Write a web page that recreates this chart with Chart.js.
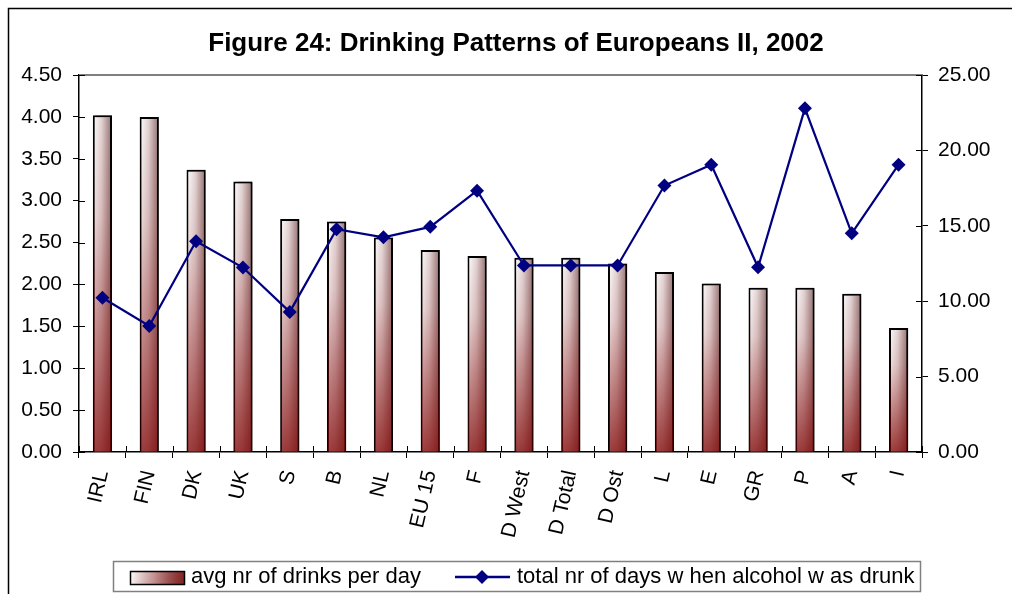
<!DOCTYPE html>
<html><head><meta charset="utf-8">
<script src="https://cdn.jsdelivr.net/npm/chart.js@4/dist/chart.umd.min.js"></script>
<style>html,body{margin:0;padding:0;background:#fff;overflow:hidden}#wrap{width:1012px;height:594px;position:relative}</style>
</head><body><div id="wrap"><canvas id="c" width="1012" height="594"></canvas></div>
<script>
const titleText = 'Figure 24: Drinking Patterns of Europeans II, 2002';
const categories = ['IRL','FIN','DK','UK','S','B','NL','EU 15','F','D West','D Total','D Ost','L','E','GR','P','A','I'];
const drinksPerDay = [4.02,4.00,3.37,3.23,2.78,2.75,2.56,2.41,2.34,2.32,2.32,2.25,2.15,2.01,1.96,1.96,1.89,1.48];
const daysDrunk = [10.23,8.36,13.97,12.23,9.29,14.77,14.24,14.93,17.33,12.37,12.37,12.37,17.67,19.05,12.25,22.79,14.50,19.05];
const seriesNames = ['avg nr of drinks per day','total nr of days w hen alcohol w as drunk'];
const leftTicks = {min:0, max:4.5, step:0.5};
const rightTicks = {min:0, max:25, step:5};

const FONT = "'Liberation Sans', Arial, sans-serif";
const BAR_PCT = 0.41;

function barGradient(ctx, x0, x1) {
  const g = ctx.createLinearGradient(x0, 0, x1, 0);
  g.addColorStop(0, '#ffffff');
  g.addColorStop(0.45, '#e3d4d4');
  g.addColorStop(1, '#947070');
  return g;
}

const decor = {
  id: 'decor',
  beforeDraw(chart) {
    const c = chart.ctx;
    c.save(); c.fillStyle = '#fff'; c.fillRect(0, 0, chart.width, chart.height); c.restore();
  },
  beforeDatasetDraw(chart, args) {
    if (args.index !== 0) return;
    const c = chart.ctx;
    c.save();
    c.shadowColor = 'rgba(0,0,0,0.45)';
    c.shadowOffsetX = 3; c.shadowOffsetY = 0; c.shadowBlur = 2;
  },
  afterDatasetDraw(chart, args) {
    if (args.index !== 0) return;
    const c = chart.ctx;
    c.restore();
    c.save();
    args.meta.data.forEach(el => {
      const p = el.getProps(['x','y','base','width'], true);
      const l = p.x - p.width / 2 + 1, r = p.x + p.width / 2 - 1;
      const g = c.createLinearGradient(0, p.y, 0, p.base);
      g.addColorStop(0, 'rgba(130,0,0,0)');
      g.addColorStop(0.3, 'rgba(130,0,0,0.12)');
      g.addColorStop(1, 'rgba(125,0,0,0.75)');
      c.fillStyle = g;
      c.fillRect(l, p.y + 1, r - l, p.base - p.y - 1);
    });
    c.restore();
  },
  afterDraw(chart) {
    const c = chart.ctx, a = chart.chartArea;
    c.save();
    c.strokeStyle = '#000'; c.lineWidth = 1.5;
    c.beginPath(); c.moveTo(8.5, chart.height); c.lineTo(8.5, 8.5); c.lineTo(chart.width, 8.5); c.stroke();
    c.strokeStyle = '#808080'; c.lineWidth = 2;
    c.beginPath(); c.moveTo(a.left, a.top); c.lineTo(a.right, a.top); c.stroke();
    c.strokeStyle = '#000'; c.lineWidth = 1;
    const ys = chart.scales.y, y1 = chart.scales.y1, xs = chart.scales.x;
    ys.ticks.forEach((t, i) => { const y = Math.round(ys.getPixelForTick(i)) + 0.5; c.beginPath(); c.moveTo(a.left, y); c.lineTo(a.left + 6, y); c.stroke(); });
    y1.ticks.forEach((t, i) => { const y = Math.round(y1.getPixelForTick(i)) + 0.5; c.beginPath(); c.moveTo(a.right - 6, y); c.lineTo(a.right, y); c.stroke(); });
    const n = categories.length, cw = (a.right - a.left) / n;
    for (let i = 0; i <= n; i++) {
      const x = Math.round(xs.getPixelForValue(Math.min(i, n - 1)) + (i < n ? -cw / 2 : cw / 2)) + 0.5;
      c.beginPath(); c.moveTo(x, a.bottom - 6); c.lineTo(x, a.bottom); c.stroke();
    }
    c.fillStyle = '#000';
    c.font = 'bold 26px ' + FONT;
    c.textAlign = 'center'; c.textBaseline = 'middle';
    c.fillText(titleText, 516, 44);
    c.strokeStyle = '#808080'; c.lineWidth = 1.5;
    c.strokeRect(113.5, 561.5, 807, 30);
    const bx0 = 130, bx1 = 184, by0 = 571, by1 = 584;
    c.fillStyle = barGradient(c, bx0, bx1);
    c.fillRect(bx0, by0, bx1 - bx0, by1 - by0);
    const lg = c.createLinearGradient(bx0, by0, bx1, by1);
    lg.addColorStop(0, 'rgba(130,0,0,0)'); lg.addColorStop(1, 'rgba(125,0,0,0.7)');
    c.fillStyle = lg; c.fillRect(bx0, by0, bx1 - bx0, by1 - by0);
    c.strokeStyle = '#000'; c.lineWidth = 1.5;
    c.strokeRect(bx0 + 0.5, by0 + 0.5, bx1 - bx0, by1 - by0);
    c.strokeStyle = '#000080'; c.lineWidth = 2.5;
    c.beginPath(); c.moveTo(455, 577); c.lineTo(510, 577); c.stroke();
    c.fillStyle = '#000080';
    c.beginPath(); c.moveTo(482, 570); c.lineTo(489, 577); c.lineTo(482, 584); c.lineTo(475, 577); c.closePath(); c.fill();
    c.fillStyle = '#000'; c.font = '22px ' + FONT; c.textAlign = 'left';
    c.fillText(chart.data.datasets[0].label, 191, 577);
    c.fillText(chart.data.datasets[1].label, 517, 577);
    c.restore();
  }
};

const tickFont = {family: FONT, size: 21};

new Chart(document.getElementById('c'), {
  data: {
    labels: categories,
    datasets: [
      {
        type: 'bar', label: seriesNames[0], data: drinksPerDay, yAxisID: 'y', order: 1,
        backgroundColor: (ctx) => {
          const ch = ctx.chart;
          if (!ch.chartArea || ctx.dataIndex === undefined) return '#d9c6c6';
          const xs = ch.scales.x;
          const cx = xs.getPixelForValue(ctx.dataIndex);
          const half = (ch.chartArea.right - ch.chartArea.left) / categories.length * BAR_PCT / 2;
          return barGradient(ch.ctx, cx - half, cx + half);
        },
        borderColor: '#000', borderWidth: 2, borderSkipped: 'bottom',
        barPercentage: BAR_PCT, categoryPercentage: 1
      },
      {
        type: 'line', label: seriesNames[1], data: daysDrunk, yAxisID: 'y1', order: 0,
        borderColor: '#000080', backgroundColor: '#000080', borderWidth: 2.2, tension: 0,
        pointStyle: 'rectRot', pointRadius: 7, pointBorderWidth: 0, pointBackgroundColor: '#000080',
        fill: false
      }
    ]
  },
  options: {
    responsive: false, animation: false, events: [],
    layout: {padding: {top: 75, left: 0, right: 0, bottom: 0}, autoPadding: false},
    plugins: {legend: {display: false}, title: {display: false}, tooltip: {enabled: false}},
    scales: {
      x: {
        type: 'category', offset: true,
        grid: {offset: true, drawOnChartArea: false, drawTicks: true, tickLength: 6, color: '#000', lineWidth: 1},
        border: {color: '#000', width: 1.5},
        ticks: {minRotation: 77, maxRotation: 77, autoSkip: false, padding: 10, color: '#000', font: tickFont},
        afterFit(s) { s.height = 142; }
      },
      y: {
        position: 'left', min: leftTicks.min, max: leftTicks.max,
        grid: {drawOnChartArea: false, drawTicks: true, tickLength: 6, color: '#000'},
        border: {color: '#000', width: 1.5},
        ticks: {stepSize: leftTicks.step, padding: 11, color: '#000', font: tickFont, callback: v => Number(v).toFixed(2)},
        afterFit(s) { s.width = 79; }
      },
      y1: {
        position: 'right', min: rightTicks.min, max: rightTicks.max,
        grid: {drawOnChartArea: false, drawTicks: true, tickLength: 6, color: '#000'},
        border: {color: '#000', width: 1.5},
        ticks: {stepSize: rightTicks.step, padding: 10, color: '#000', font: tickFont, callback: v => Number(v).toFixed(2)},
        afterFit(s) { s.width = 90; }
      }
    }
  },
  plugins: [decor]
});
</script></body></html>
